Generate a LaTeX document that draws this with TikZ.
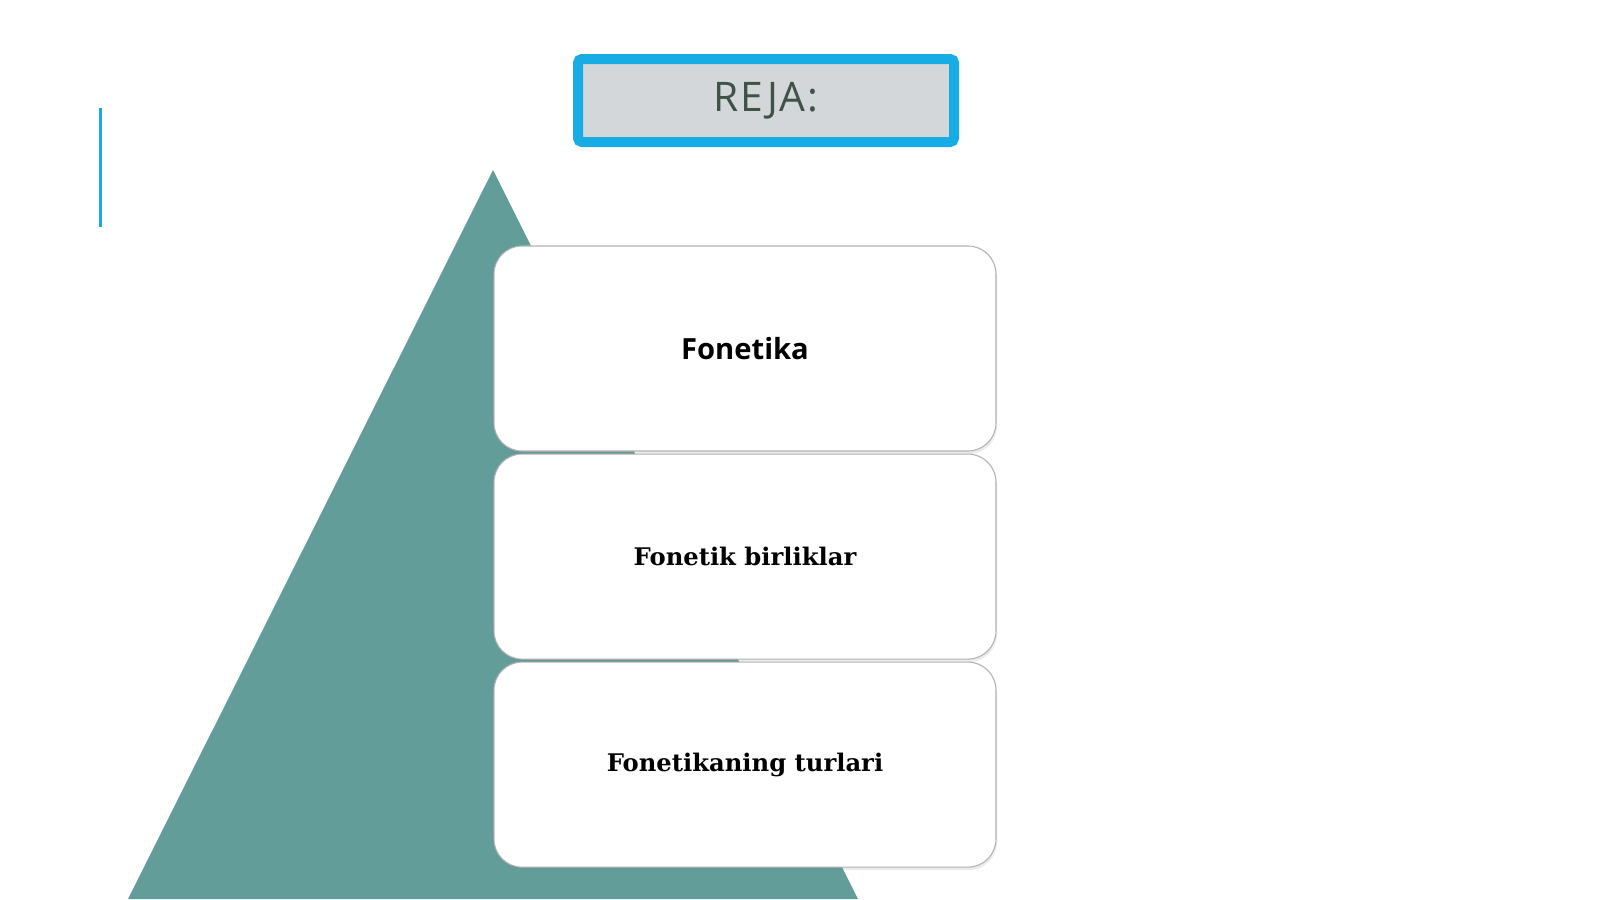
\documentclass[tikz,border=0pt]{standalone}
\usepackage{fontspec}
\setmainfont{Open Sans}
\newfontfamily\plainserif{DejaVu Serif}
\usetikzlibrary{positioning,shadows}
\definecolor{pyramid}{RGB}{98,157,153}
\definecolor{rejaframe}{RGB}{24,172,228}
\definecolor{rejafill}{RGB}{212,215,218}
\definecolor{rejatext}{RGB}{62,82,72}
\tikzset{
  planbox/.style={draw=black!30,line width=0.3pt,fill=white,rounded corners=2.8mm,
    minimum width=50.2mm,minimum height=20.5mm,inner sep=0pt,
    drop shadow={shadow xshift=0.1mm,shadow yshift=-0.3mm,opacity=0.15}},
  titlebox/.style={draw=rejaframe,line width=1mm,fill=rejafill,rounded corners=0.4mm,
    minimum width=37.6mm,minimum height=8.3mm,inner sep=0pt,text=rejatext}
}
\begin{document}
\begin{tikzpicture}[x=0.1mm,y=-0.1mm]
    \useasboundingbox[fill=white] (0,0) rectangle (1600,899);
    %% side mark
    \draw[rejaframe,line width=0.3mm] (100,108) -- (100,227);
    %% pyramid
    \fill[pyramid] (493,170) -- (858,899) -- (128,899) -- cycle;
    %% title
    \node[titlebox] (reja) at (766,100.5) {\fontsize{11.6}{14}\selectfont\addfontfeature{LetterSpace=4}REJA:};
    %% plan items
    \node[planbox] (fonetika) at (745,348.5) {\fontsize{8.3}{10}\selectfont\bfseries Fonetika};
    \node[planbox,below=0.2mm of fonetika] (birlik) {\plainserif\fontsize{6.9}{9}\selectfont\bfseries Fonetik birliklar};
    \node[planbox,below=0.2mm of birlik] (turlar) {\plainserif\fontsize{6.9}{9}\selectfont\bfseries Fonetikaning turlari};
\end{tikzpicture}
\end{document}
